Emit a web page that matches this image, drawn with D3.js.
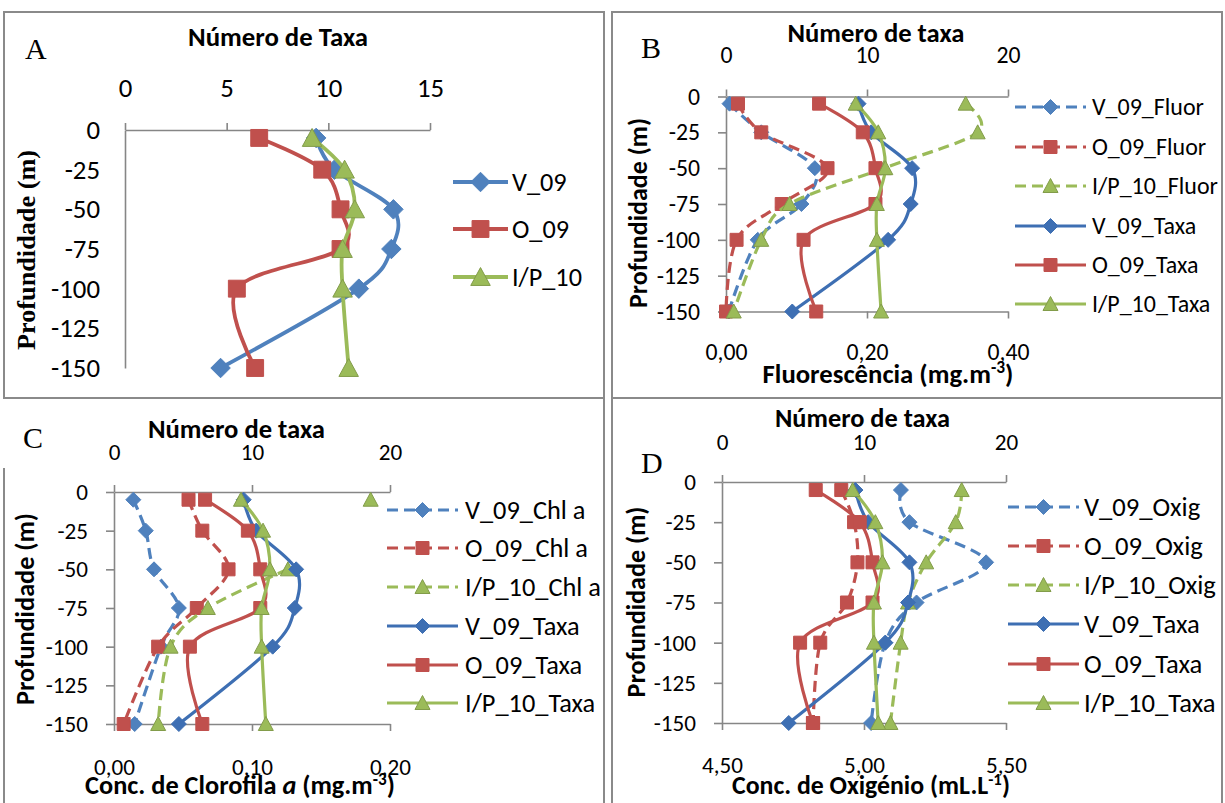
<!DOCTYPE html>
<html>
<head>
<meta charset="utf-8">
<script src="https://cdn.jsdelivr.net/npm/d3@7"></script>
<style>
  body { margin: 0; background: #fff; }
</style>
</head>
<body>
<svg id="chart" width="1225" height="803"></svg>
<script>
// depth of each sample (m)
const depths = [-5, -25, -50, -75, -100, -150];
const depthTicks = [0, -25, -50, -75, -100, -125, -150];

// number of taxa (same in all four panels)
const taxaV09 = [9.4, 10.3, 13.2, 13.1, 11.5, 4.7];
const taxaO09 = [6.6, 9.7, 10.6, 10.6, 5.5, 6.4];
const taxaIP10 = [9.2, 10.8, 11.3, 10.7, 10.7, 11.0];

// fluorescence (mg.m-3)
const fluorV09 = [0.005, 0.05, 0.126, 0.107, 0.045, 0.004];
const fluorO09 = [0.017, 0.05, 0.144, 0.079, 0.015, 0.0];
const fluorIP10 = [0.34, 0.357, 0.224, 0.09, 0.05, 0.011];

// chlorophyll a (mg.m-3), no value at -25 for I/P_10
const chlV09 = [0.014, 0.023, 0.029, 0.047, 0.034, 0.015];
const chlO09 = [0.054, 0.064, 0.083, 0.060, 0.032, 0.007];
const chlIP10 = [0.186, null, 0.126, 0.068, 0.041, 0.032];

// oxygen (mL.L-1)
const oxiV09 = [5.13, 5.16, 5.43, 5.185, 5.075, 5.025];
const oxiO09 = [4.92, 4.965, 4.977, 4.94, 4.846, 4.821];
const oxiIP10 = [5.344, 5.323, 5.219, 5.155, 5.129, 5.093];

const topTicksA = [0, 5, 10, 15];
const topTicks = [0, 10, 20];
const fluorTicks = [0, 0.2, 0.4];
const chlTicks = [0, 0.1, 0.2];
const oxiTicks = [4.5, 5.0, 5.5];

const FONT = "Carlito, Lato, 'Open Sans', sans-serif";
const SERIF = "'Liberation Serif', 'DejaVu Serif', serif";
const AXIS = "#868686";
const FRAME = "#8a8a8a";
const blue = "#4F81BD", blueDark = "#3E6FB3", red = "#C0504D", green = "#9BBB59";
const DASH = "11,6";

const svg = d3.select("#chart");

const comma = d => d.toFixed(2).replace(".", ",");

function ser(name, values, color, marker, dashed, top) {
  return {name, values, color, marker, dashed, top};
}

const panels = [
  {
    letter: "A", letterX: 25, letterY: 59,
    frame: "M4,12H604V398H4Z",
    x0: 125, x1: 430, y0: 130, y1: 368,
    topDomain: [0, 15], topTicks: topTicksA, topLabelY: 88,
    tickRef: "-150", tickRefW: 49, yTickSize: 0, yTickRight: 100,
    title: "Número de Taxa", titleX: 278, titleY: 46, titleW: 180,
    ylabSerif: true, ylabX: 26, ylabY: 250, ylabLen: 200,
    legX0: 453, legX1: 508, legTx: 512, legY: [182, 229, 277], legW: 70,
    mScale: 1.3, lw: 3.8,
    series: [
      ser("V_09", taxaV09, blue, "diamond", false, true),
      ser("O_09", taxaO09, red, "square", false, true),
      ser("I/P_10", taxaIP10, green, "triangle", false, true)
    ]
  },
  {
    letter: "B", letterX: 641, letterY: 58,
    frame: "M612,12H1222V398H612Z",
    x0: 726, x1: 1008, y0: 96.5, y1: 311.5,
    topDomain: [0, 20], topTicks: topTicks, topLabelY: 55,
    botDomain: [0, 0.4], botTicks: fluorTicks, botLabelY: 352,
    tickRef: "0,00", tickRefW: 42, yTickSize: 8, yTickRight: 700,
    title: "Número de taxa", titleX: 876, titleY: 42, titleW: 177,
    bot: ["Fluorescência (mg.m", "-3", ")"], botX: 888, botY: 383, botW: 251,
    ylabX: 638, ylabY: 213, ylabLen: 190,
    legX0: 1015, legX1: 1086, legTx: 1092, legY: [107, 147, 186, 226, 265, 304], legW: 126,
    mScale: 1, lw: 3.2,
    series: [
      ser("V_09_Fluor", fluorV09, blue, "diamond", true, false),
      ser("O_09_Fluor", fluorO09, red, "square", true, false),
      ser("I/P_10_Fluor", fluorIP10, green, "triangle", true, false),
      ser("V_09_Taxa", taxaV09, blueDark, "diamond", false, true),
      ser("O_09_Taxa", taxaO09, red, "square", false, true),
      ser("I/P_10_Taxa", taxaIP10, green, "triangle", false, true)
    ]
  },
  {
    letter: "C", letterX: 23, letterY: 448,
    frame: "M4,468V803M4,398H604V803",
    x0: 114, x1: 390, y0: 492, y1: 724,
    topDomain: [0, 20], topTicks: topTicks, topLabelY: 452,
    botDomain: [0, 0.2], botTicks: chlTicks, botLabelY: 767,
    tickRef: "0,00", tickRefW: 41, yTickSize: 8, yTickRight: 88,
    title: "Número de taxa", titleX: 236.5, titleY: 438, titleW: 177,
    bot: ["Conc. de Clorofila ", "a", " (mg.m", "-3", ")"], botX: 240, botY: 794, botW: 310,
    ylabX: 25, ylabY: 609, ylabLen: 192,
    legX0: 387, legX1: 458, legTx: 465, legY: [510, 548, 587, 626, 665, 703], legW: 136,
    mScale: 1, lw: 3.2,
    series: [
      ser("V_09_Chl a", chlV09, blue, "diamond", true, false),
      ser("O_09_Chl a", chlO09, red, "square", true, false),
      ser("I/P_10_Chl a", chlIP10, green, "triangle", true, false),
      ser("V_09_Taxa", taxaV09, blueDark, "diamond", false, true),
      ser("O_09_Taxa", taxaO09, red, "square", false, true),
      ser("I/P_10_Taxa", taxaIP10, green, "triangle", false, true)
    ]
  },
  {
    letter: "D", letterX: 641, letterY: 473,
    frame: "M612,803V398H1222V803",
    x0: 722, x1: 1006, y0: 482, y1: 723,
    topDomain: [0, 20], topTicks: topTicks, topLabelY: 442,
    botDomain: [4.5, 5.5], botTicks: oxiTicks, botLabelY: 765,
    tickRef: "0,00", tickRefW: 41, yTickSize: 8, yTickRight: 696,
    title: "Número de taxa", titleX: 862.5, titleY: 427, titleW: 175,
    bot: ["Conc. de Oxigénio (mL.L", "-1", ")"], botX: 871, botY: 794, botW: 278,
    ylabX: 636, ylabY: 602, ylabLen: 191,
    legX0: 1008, legX1: 1079, legTx: 1084, legY: [507, 546, 585, 624, 664, 703], legW: 132,
    mScale: 1, lw: 3.2,
    series: [
      ser("V_09_Oxig", oxiV09, blue, "diamond", true, false),
      ser("O_09_Oxig", oxiO09, red, "square", true, false),
      ser("I/P_10_Oxig", oxiIP10, green, "triangle", true, false),
      ser("V_09_Taxa", taxaV09, blueDark, "diamond", false, true),
      ser("O_09_Taxa", taxaO09, red, "square", false, true),
      ser("I/P_10_Taxa", taxaIP10, green, "triangle", false, true)
    ]
  }
];

function markerPath(type, s) {
  if (type == "diamond") {
    let r = 7.5 * s;
    return `M0,${-r}L${r},0L0,${r}L${-r},0Z`;
  }
  if (type == "square") {
    let h = 6.5 * s;
    return `M${-h},${-h}H${h}V${h}H${-h}Z`;
  }
  let w = 7.5 * s, h = 13 * s;
  return `M0,${-h / 2 - 1}L${w},${h / 2}L${-w},${h / 2}Z`;
}

function markerStroke(s) {
  return s.marker == "triangle" ? d3.color(s.color).darker(0.5) : s.color;
}

// scale a text's font size so that its length matches the picture
function fitText(t, len) {
  let w = t.node().getComputedTextLength();
  let fs = parseFloat(t.style("font-size"));
  t.style("font-size", (fs * len / w) + "px");
}

// font size for tick labels, from the width of one label in the picture
function tickFontSize(label, width) {
  const t = svg.append("text").style("font-family", FONT).style("font-size", "20px").text(label);
  const w = t.node().getComputedTextLength();
  t.remove();
  return 20 * width / w;
}

function styleAxis(g, fs) {
  g.select(".domain").attr("stroke", AXIS).attr("stroke-width", 1.6);
  g.selectAll(".tick line").attr("stroke", AXIS).attr("stroke-width", 1.6);
  g.selectAll(".tick text").attr("fill", "#000")
    .style("font-family", FONT).style("font-size", fs + "px");
}

function drawPanel(p) {
  const g = svg.append("g");
  const fs = tickFontSize(p.tickRef, p.tickRefW);

  g.append("path").attr("d", p.frame)
    .attr("fill", "none").attr("stroke", FRAME).attr("stroke-width", 2);

  const y = d3.scaleLinear().domain([0, -150]).range([p.y0, p.y1]);
  const xT = d3.scaleLinear().domain(p.topDomain).range([p.x0, p.x1]);
  const xB = p.botDomain ? d3.scaleLinear().domain(p.botDomain).range([p.x0, p.x1]) : xT;

  // depth axis
  const gy = g.append("g").attr("transform", `translate(${p.x0},0)`)
    .call(d3.axisLeft(y).tickValues(depthTicks).tickSize(p.yTickSize).tickSizeOuter(0)
      .tickPadding(p.x0 - p.yTickRight - p.yTickSize).tickFormat(d3.format("d")));
  styleAxis(gy, fs);
  gy.selectAll(".tick text").text(d => d == 0 ? "0" : "-" + Math.abs(d));

  // taxa axis on top
  const gt = g.append("g").attr("transform", `translate(0,${p.y0})`)
    .call(d3.axisTop(xT).tickValues(p.topTicks).tickSize(7).tickSizeOuter(0));
  styleAxis(gt, fs);
  gt.selectAll(".tick text").attr("y", p.topLabelY - p.y0).attr("dy", "0.35em");

  // second variable on the bottom axis
  if (p.botDomain) {
    const gb = g.append("g").attr("transform", `translate(0,${p.y1})`)
      .call(d3.axisBottom(xB).tickValues(p.botTicks).tickSize(7).tickSizeOuter(0).tickFormat(comma));
    styleAxis(gb, fs);
    gb.selectAll(".tick text").attr("y", p.botLabelY - p.y1).attr("dy", "0.35em");
  }

  // titles
  const tt = g.append("text").attr("x", p.titleX).attr("y", p.titleY)
    .attr("text-anchor", "middle").style("font-family", FONT).style("font-weight", "bold")
    .style("font-size", "20px").text(p.title);
  fitText(tt, p.titleW);

  if (p.bot) {
    const bt = g.append("text").attr("x", p.botX).attr("y", p.botY)
      .attr("text-anchor", "middle").style("font-family", FONT).style("font-weight", "bold")
      .style("font-size", "20px");
    p.bot.forEach(s => {
      const ts = bt.append("tspan").text(s);
      if (s == "a") ts.style("font-style", "italic");
      if (s.startsWith("-")) ts.style("font-size", "0.65em").attr("dy", "-0.55em");
      if (s == ")") ts.attr("dy", "0.36em");
    });
    fitText(bt, p.botW);
  }

  const yl = g.append("text")
    .attr("transform", `translate(${p.ylabX},${p.ylabY}) rotate(-90)`)
    .attr("text-anchor", "middle").attr("dy", "0.35em")
    .style("font-family", p.ylabSerif ? SERIF : FONT).style("font-weight", "bold")
    .style("font-size", "20px").text("Profundidade (m)");
  fitText(yl, p.ylabLen);

  g.append("text").attr("x", p.letterX).attr("y", p.letterY)
    .style("font-family", SERIF).style("font-size", "30px").text(p.letter);

  // series: line then markers, in legend order
  p.series.forEach(s => {
    const x = s.top ? xT : xB;
    const pts = s.values.map((v, i) => ({v: v, d: depths[i]}));
    const line = d3.line()
      .defined(d => d.v != null)
      .x(d => x(d.v)).y(d => y(d.d))
      .curve(d3.curveCatmullRom.alpha(0));
    g.append("path").attr("d", line(pts))
      .attr("fill", "none").attr("stroke", s.color).attr("stroke-width", p.lw)
      .attr("stroke-dasharray", s.dashed ? DASH : null);
    g.selectAll(null).data(pts.filter(d => d.v != null)).join("path")
      .attr("transform", d => `translate(${x(d.v)},${y(d.d)})`)
      .attr("d", markerPath(s.marker, p.mScale))
      .attr("fill", s.color).attr("stroke", markerStroke(s)).attr("stroke-width", 1);
  });

  // legend
  const texts = [];
  p.series.forEach((s, i) => {
    const ly = p.legY[i];
    g.append("line").attr("x1", p.legX0).attr("x2", p.legX1).attr("y1", ly).attr("y2", ly)
      .attr("stroke", s.color).attr("stroke-width", p.lw)
      .attr("stroke-dasharray", s.dashed ? DASH : null);
    g.append("path").attr("transform", `translate(${(p.legX0 + p.legX1) / 2},${ly})`)
      .attr("d", markerPath(s.marker, p.mScale))
      .attr("fill", s.color).attr("stroke", markerStroke(s)).attr("stroke-width", 1);
    texts.push(g.append("text").attr("x", p.legTx).attr("y", ly).attr("dy", "0.35em")
      .style("font-family", FONT).style("font-size", "20px").text(s.name));
  });
  const maxW = d3.max(texts, t => t.node().getComputedTextLength());
  texts.forEach(t => t.style("font-size", (20 * p.legW / maxW) + "px"));
}

panels.forEach(drawPanel);
</script>
</body>
</html>
